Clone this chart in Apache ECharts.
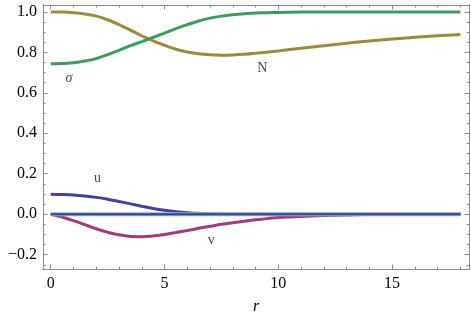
<!DOCTYPE html>
<html>
<head>
<meta charset="utf-8">
<script src="https://cdn.jsdelivr.net/npm/echarts@6/dist/echarts.min.js"></script>
<style>
  html, body { margin: 0; padding: 0; background: #fff; }
  #chart { width: 471px; height: 332px; }
</style>
</head>
<body>
<div id="chart"></div>
<script>
// radial coordinate
const r = [0, 0.5, 1, 1.5, 2, 2.5, 3, 3.5, 4, 4.5, 5, 5.5, 6, 6.5, 7, 7.5, 8, 8.5, 9, 9.5, 10, 11, 12, 13, 14, 15, 16, 17, 18];
// field profiles
const N = [1.0, 0.999, 0.996, 0.99, 0.979, 0.961, 0.937, 0.91, 0.882, 0.857, 0.835, 0.815, 0.802, 0.793, 0.788, 0.786, 0.787, 0.79, 0.795, 0.801, 0.807, 0.82, 0.833, 0.845, 0.856, 0.866, 0.874, 0.882, 0.888];
const sigma = [0.744, 0.745, 0.749, 0.757, 0.769, 0.789, 0.81, 0.833, 0.853, 0.874, 0.895, 0.917, 0.937, 0.955, 0.969, 0.979, 0.986, 0.991, 0.994, 0.996, 0.997, 0.999, 1.0, 1.0, 1.0, 1.0, 1.0, 1.0, 1.0];
const u = [0.098, 0.097, 0.095, 0.09, 0.083, 0.074, 0.063, 0.051, 0.039, 0.028, 0.019, 0.012, 0.007, 0.004, 0.002, 0.001, 0, 0, 0, 0, 0, 0, 0, 0, 0, 0, 0, 0, 0];
const v = [0, -0.014, -0.032, -0.052, -0.072, -0.089, -0.102, -0.11, -0.112, -0.108, -0.1, -0.091, -0.081, -0.07, -0.06, -0.05, -0.042, -0.035, -0.028, -0.022, -0.017, -0.011, -0.007, -0.004, -0.002, -0.001, 0, 0, 0];
const zero = r.map(() => 0);

const xMajor = [0, 5, 10, 15];
const xMinor = [1, 2, 3, 4, 6, 7, 8, 9, 11, 12, 13, 14, 16, 17, 18];
const yMajor = [-0.2, 0, 0.2, 0.4, 0.6, 0.8, 1.0];
const yMinor = [-0.25, -0.15, -0.1, -0.05, 0.05, 0.1, 0.15, 0.25, 0.3, 0.35, 0.45, 0.5, 0.55, 0.65, 0.7, 0.75, 0.85, 0.9, 0.95];

// curve labels: [r, y, text, italic]
const labels = [
  [0.8, 0.67, 'σ', true],
  [9.3, 0.72, 'N', false],
  [2.05, 0.175, 'u', false],
  [7.05, -0.128, 'v', false]
];

const chart = echarts.init(document.getElementById('chart'));

const frameColor = '#8a8a8a';
const font = 'Liberation Serif';

function xAxisDef(pos, ticks, len, showLabel, name) {
  return {
    type: 'value', position: pos, min: -0.34, max: 18.38,
    name: name || '', nameLocation: 'middle', nameGap: 30,
    nameTextStyle: { fontFamily: font, fontSize: 16, fontStyle: 'italic', color: '#000' },
    axisLine: { show: true, onZero: false, lineStyle: { color: frameColor, width: 1 } },
    axisTick: { show: true, inside: true, length: len, customValues: ticks, lineStyle: { color: frameColor } },
    axisLabel: { show: showLabel, customValues: ticks, fontFamily: font, fontSize: 16, color: '#000', margin: 7 },
    splitLine: { show: false }
  };
}

function yAxisDef(pos, ticks, len, showLabel) {
  return {
    type: 'value', position: pos, min: -0.271, max: 1.034,
    axisLine: { show: true, onZero: false, lineStyle: { color: frameColor, width: 1 } },
    axisTick: { show: true, inside: true, length: len, customValues: ticks, lineStyle: { color: frameColor } },
    axisLabel: {
      show: showLabel, customValues: ticks, fontFamily: font, fontSize: 16, color: '#000', margin: 6,
      formatter: val => val.toFixed(1).replace('-', '\u2212')
    },
    splitLine: { show: false }
  };
}

function line(data, color, width) {
  return {
    type: 'line', xAxisIndex: 0, yAxisIndex: 0, smooth: 0.3, showSymbol: false, symbol: 'none',
    data: r.map((x, i) => [x, data[i]]),
    lineStyle: { color: color, width: width }, z: 3
  };
}

const option = {
  animation: false,
  textStyle: { fontFamily: font },
  grid: { left: 43, right: 2, top: 5, bottom: 63 },
  xAxis: [
    xAxisDef('bottom', xMajor, 4.5, true, 'r'),
    xAxisDef('bottom', xMinor, 2.5, false),
    xAxisDef('top', xMajor, 4.5, false),
    xAxisDef('top', xMinor, 2.5, false)
  ],
  yAxis: [
    yAxisDef('left', yMajor, 4.5, true),
    yAxisDef('left', yMinor, 2.5, false),
    yAxisDef('right', yMajor, 4.5, false),
    yAxisDef('right', yMinor, 2.5, false)
  ],
  series: [
    line(N, '#9c8b3c', 3),
    line(sigma, '#3c9c5c', 3),
    line(u, '#42429e', 3),
    line(v, '#a03c78', 3),
    line(zero, '#9aa8d4', 4),
    line(zero, '#2b4a86', 2),
    {
      type: 'scatter', xAxisIndex: 0, yAxisIndex: 0, symbolSize: 0,
      data: labels.map(d => ({
        value: [d[0], d[1]], name: d[2],
        label: { fontStyle: d[3] ? 'italic' : 'normal', fontFamily: font }
      })),
      label: {
        show: true, position: 'inside', color: '#111', fontFamily: font, fontSize: 14,
        formatter: p => p.name
      },
      z: 5
    }
  ]
};

chart.setOption(option);
</script>
</body>
</html>
